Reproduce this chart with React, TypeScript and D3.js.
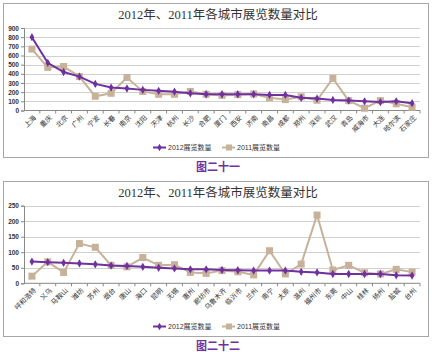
import * as d3 from "d3";
import React, { useEffect, useRef } from "react";

const cities1 = ["上海", "重庆", "北京", "广州", "宁波", "长春", "南京", "沈阳", "天津", "杭州", "长沙", "合肥", "厦门", "西安", "济南", "南昌", "成都", "郑州", "深圳", "武汉", "青岛", "威海市", "大连", "哈尔滨", "石家庄"];
const v2012a = [800, 520, 420, 370, 290, 250, 240, 225, 215, 205, 188, 177, 177, 177, 177, 170, 170, 138, 130, 115, 108, 100, 92, 100, 80];
const v2011a = [670, 470, 480, 370, 155, 188, 360, 208, 177, 177, 208, 177, 165, 173, 180, 138, 119, 150, 112, 350, 108, 25, 108, 73, 35];
const ticks1 = [0, 100, 200, 300, 400, 500, 600, 700, 800, 900];

const cities2 = ["呼和浩特", "义乌", "马鞍山", "潍坊", "苏州", "烟台", "唐山", "海口", "昆明", "无锡", "惠州", "廊坊市", "乌鲁木齐", "临沂市", "兰州", "南宁", "太原", "温州", "福州市", "东莞", "中山", "桂林", "扬州", "盐城", "台州"];
const v2012b = [70, 68, 66, 64, 61, 57, 56, 53, 50, 48, 45, 45, 43, 42, 41, 41, 41, 37, 35, 30, 30, 30, 30, 26, 25];
const v2011b = [23, 69, 35, 128, 116, 58, 53, 83, 58, 60, 35, 32, 41, 37, 27, 105, 30, 62, 220, 43, 58, 34, 30, 45, 36];
const ticks2 = [0, 50, 100, 150, 200, 250];

const PURPLE = "#7030A0";
const TAN = "#C7B299";
const CJK = "'Liberation Serif', 'Noto Sans CJK SC', serif";
const SANS = "'Liberation Sans', 'Noto Sans CJK SC', sans-serif";

interface ChartSpec {
  top: number;
  bottom: number;
  plotTop: number;
  plotBottom: number;
  max: number;
  ticks: number[];
  cats: string[];
  a: number[];
  b: number[];
  caption: string;
}

const drawChart = (root: d3.Selection<SVGGElement, unknown, null, undefined>, s: ChartSpec) => {
  const left = 24;
  const right = 420;
  const g = root.append("g");

  g.append("rect")
    .attr("x", 3.5)
    .attr("y", s.top + 0.5)
    .attr("width", 425)
    .attr("height", s.bottom - s.top)
    .attr("fill", "#fff")
    .attr("stroke", "#a6a6a6");

  g.append("text")
    .attr("x", 218)
    .attr("y", s.top + 16)
    .attr("text-anchor", "middle")
    .attr("font-family", CJK)
    .attr("font-size", 12.5)
    .attr("fill", "#333")
    .text("2012年、2011年各城市展览数量对比");

  const x = d3.scaleBand<string>().domain(s.cats).range([left, right]).padding(0);
  const y = d3.scaleLinear().domain([0, s.max]).range([s.plotBottom, s.plotTop]);
  const cx = (c: string) => (x(c) ?? 0) + x.bandwidth() / 2;

  // gridlines
  g.append("g")
    .selectAll("line")
    .data(s.ticks.slice(1))
    .enter()
    .append("line")
    .attr("x1", left)
    .attr("x2", right)
    .attr("y1", (d) => Math.round(y(d)) + 0.5)
    .attr("y2", (d) => Math.round(y(d)) + 0.5)
    .attr("stroke", "#d0d0d0");

  // y axis
  const ya = g.append("g").attr("transform", `translate(${left},0)`)
    .call(d3.axisLeft(y).tickValues(s.ticks).tickSize(3).tickPadding(2));
  ya.select(".domain").attr("stroke", "#888");
  ya.selectAll(".tick line").attr("stroke", "#888");
  ya.selectAll("text")
    .attr("font-family", SANS)
    .attr("font-size", 6.5)
    .attr("font-weight", "bold")
    .attr("fill", "#333");

  // x axis, ticks sit on the band edges
  const xa = g.append("g").attr("transform", `translate(0,${s.plotBottom})`);
  xa.append("line").attr("x1", left).attr("x2", right).attr("stroke", "#888");
  xa.selectAll("line.tk")
    .data(s.cats)
    .enter()
    .append("line")
    .attr("class", "tk")
    .attr("x1", (d) => (x(d) ?? 0) + x.bandwidth())
    .attr("x2", (d) => (x(d) ?? 0) + x.bandwidth())
    .attr("y2", 3)
    .attr("stroke", "#888");
  xa.selectAll("text")
    .data(s.cats)
    .enter()
    .append("text")
    .attr("transform", (d) => `translate(${cx(d) + 3},6) rotate(-45)`)
    .attr("text-anchor", "end")
    .attr("dy", "0.35em")
    .attr("font-family", SANS)
    .attr("font-size", 6.8)
    .attr("fill", "#333")
    .text((d) => d);

  const line = d3.line<number>()
    .x((_, i) => cx(s.cats[i]))
    .y((d) => y(d));

  // 2011 series (under)
  g.append("path").attr("d", line(s.b)).attr("fill", "none").attr("stroke", TAN).attr("stroke-width", 2);
  g.append("g")
    .selectAll("rect")
    .data(s.b)
    .enter()
    .append("rect")
    .attr("x", (_, i) => cx(s.cats[i]) - 3.5)
    .attr("y", (d) => y(d) - 3.5)
    .attr("width", 7)
    .attr("height", 7)
    .attr("fill", TAN);

  // 2012 series
  g.append("path").attr("d", line(s.a)).attr("fill", "none").attr("stroke", PURPLE).attr("stroke-width", 2);
  g.append("g")
    .selectAll("path")
    .data(s.a)
    .enter()
    .append("path")
    .attr("d", d3.symbol().type(d3.symbolDiamond).size(20)())
    .attr("transform", (d, i) => `translate(${cx(s.cats[i])},${y(d)})`)
    .attr("fill", PURPLE);

  // legend
  const ly = s.bottom - 9.5;
  const lg = g.append("g");
  lg.append("line").attr("x1", 153).attr("x2", 166).attr("y1", ly).attr("y2", ly).attr("stroke", PURPLE).attr("stroke-width", 2);
  lg.append("path").attr("d", d3.symbol().type(d3.symbolDiamond).size(16)()).attr("transform", `translate(159.5,${ly})`).attr("fill", PURPLE);
  lg.append("text").attr("x", 168).attr("y", ly).attr("dy", "0.35em").attr("font-family", SANS).attr("font-size", 7).attr("fill", "#333").text("2012展览数量");
  lg.append("line").attr("x1", 222).attr("x2", 235).attr("y1", ly).attr("y2", ly).attr("stroke", TAN).attr("stroke-width", 2);
  lg.append("rect").attr("x", 226).attr("y", ly - 3).attr("width", 6).attr("height", 6).attr("fill", TAN);
  lg.append("text").attr("x", 237).attr("y", ly).attr("dy", "0.35em").attr("font-family", SANS).attr("font-size", 7).attr("fill", "#333").text("2011展览数量");

  // caption
  g.append("text")
    .attr("x", 218)
    .attr("y", s.bottom + 10)
    .attr("dy", "0.35em")
    .attr("text-anchor", "middle")
    .attr("font-family", "'Noto Sans CJK SC', sans-serif")
    .attr("font-size", 11)
    .attr("font-weight", "bold")
    .attr("fill", PURPLE)
    .text(s.caption);
};

export default function App() {
  const ref = useRef<SVGSVGElement | null>(null);

  useEffect(() => {
    const svg = d3.select(ref.current);
    svg.selectAll("*").remove();
    const root = svg.append("g") as d3.Selection<SVGGElement, unknown, null, undefined>;
    drawChart(root, {
      top: 3, bottom: 157, plotTop: 28, plotBottom: 110.5, max: 900,
      ticks: ticks1, cats: cities1, a: v2012a, b: v2011a, caption: "图二十一",
    });
    drawChart(root, {
      top: 181, bottom: 336, plotTop: 205.7, plotBottom: 283.3, max: 250,
      ticks: ticks2, cats: cities2, a: v2012b, b: v2011b, caption: "图二十二",
    });
  }, []);

  return (
    <svg
      ref={ref}
      width={434}
      height={352}
      style={{ position: "absolute", left: 0, top: 0, background: "#fff" }}
    />
  );
}
